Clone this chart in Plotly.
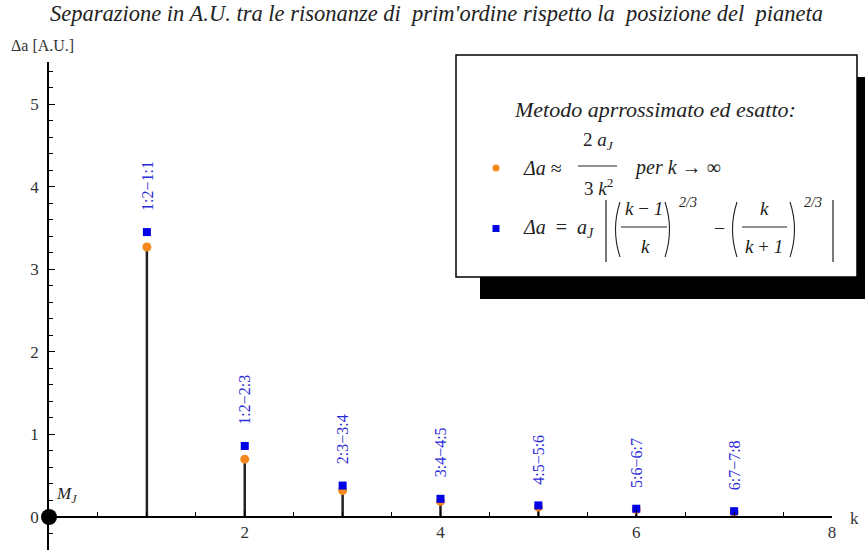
import plotly.graph_objects as go

# Order k of the first-order resonance pair
k_values = [1, 2, 3, 4, 5, 6, 7]
# Separation in A.U. (orange dots, blue squares)
approx_da = [3.27, 0.70, 0.32, 0.19, 0.12, 0.09, 0.06]
exact_da = [3.45, 0.86, 0.38, 0.22, 0.14, 0.10, 0.07]
# Resonance pair labels
pair_labels = ["1:2\u22121:1", "1:2\u22122:3", "2:3\u22123:4", "3:4\u22124:5",
               "4:5\u22125:6", "5:6\u22126:7", "6:7\u22127:8"]
x_tick_vals = [2, 4, 6, 8]
y_tick_vals = [0, 1, 2, 3, 4, 5]

W, H = 865, 554
ML, MR, MT, MB = 49, 33, 62, 4
PW, PH = W - ML - MR, H - MT - MB
Y_RANGE = [-0.4, 5.51]
SERIF = "Liberation Serif, Times New Roman, serif"
INK = "#222222"
ORANGE = "#f5891f"
BLUE = "#0000e6"
NB = "\u00a0"


def px(x):
    return (x - ML) / PW


def py(y):
    return 1 - (y - MT) / PH


fig = go.Figure()

# stems from the axis up to the orange dots
stem_x, stem_y = [], []
for k, v in zip(k_values, approx_da):
    stem_x += [k, k, None]
    stem_y += [0, v, None]
fig.add_trace(go.Scatter(x=stem_x, y=stem_y, mode="lines",
                         line=dict(color=INK, width=2.5), hoverinfo="skip"))

fig.add_trace(go.Scatter(x=k_values, y=approx_da, mode="markers",
                         marker=dict(symbol="circle", size=9, color=ORANGE)))
fig.add_trace(go.Scatter(x=k_values, y=exact_da, mode="markers",
                         marker=dict(symbol="square", size=8, color=BLUE)))

# the planet at the origin
fig.add_trace(go.Scatter(x=[0], y=[0], mode="markers", cliponaxis=False,
                         marker=dict(size=16, color="black")))

annotations = []
for k, v, lab in zip(k_values, exact_da, pair_labels):
    annotations.append(dict(x=k, y=v, xref="x", yref="y", text=lab,
                            textangle=-90, showarrow=False, xanchor="center",
                            yanchor="bottom", yshift=19,
                            font=dict(family=SERIF, size=16, color="#2b2bd6")))

annotations.append(dict(x=0, y=0, xref="x", yref="y", text="<i>M<sub>J</sub></i>",
                        showarrow=False, xanchor="left", yanchor="bottom",
                        xshift=5, yshift=9,
                        font=dict(family=SERIF, size=17, color=INK)))


def txt(x, y, s, size=17, anchor="center", color=INK):
    annotations.append(dict(x=px(x), y=py(y), xref="paper", yref="paper",
                            text=s, showarrow=False, xanchor=anchor,
                            yanchor="middle",
                            font=dict(family=SERIF, size=size, color=color)))


# title and axis names
txt(436, 14, "<i>Separazione in A.U. tra le risonanze di" + NB + " prim'ordine rispetto la"
    + NB + " posizione del" + NB + " pianeta</i>", 22.5)
txt(9, 46, "\u0394a [A.U.]", 16, anchor="left", color="#333333")
txt(848, 518, "k", 17, anchor="left", color="#333333")

shapes = []
# legend box with drop shadow
shapes.append(dict(type="rect", xref="paper", yref="paper", layer="above",
                   x0=px(480), x1=px(868), y0=py(77), y1=py(299),
                   fillcolor="black", line=dict(width=0)))
shapes.append(dict(type="rect", xref="paper", yref="paper", layer="above",
                   x0=px(456), x1=px(857), y0=py(55), y1=py(277),
                   fillcolor="white", line=dict(color="black", width=1.5)))
shapes.append(dict(type="circle", xref="paper", yref="paper", layer="above",
                   x0=px(492.5), x1=px(499.5), y0=py(164.5), y1=py(171.5),
                   fillcolor=ORANGE, line=dict(width=0)))
shapes.append(dict(type="rect", xref="paper", yref="paper", layer="above",
                   x0=px(492.5), x1=px(499.5), y0=py(225), y1=py(232),
                   fillcolor=BLUE, line=dict(width=0)))


def hline(x0, x1, y):
    shapes.append(dict(type="line", xref="paper", yref="paper", layer="above",
                       x0=px(x0), x1=px(x1), y0=py(y), y1=py(y),
                       line=dict(color=INK, width=1)))


def vline(x, y0, y1):
    shapes.append(dict(type="line", xref="paper", yref="paper", layer="above",
                       x0=px(x), x1=px(x), y0=py(y0), y1=py(y1),
                       line=dict(color=INK, width=1.2)))


def paren(x, y0, y1, opening=True, bulge=6):
    # thin tall bracket drawn as a quadratic curve
    ym = (y0 + y1) / 2
    tip = x + bulge / 2 if opening else x - bulge / 2
    ctrl = x - bulge if opening else x + bulge
    path = "M {:.5f},{:.5f} Q {:.5f},{:.5f} {:.5f},{:.5f}".format(
        px(tip), py(y0), px(ctrl), py(ym), px(tip), py(y1))
    shapes.append(dict(type="path", xref="paper", yref="paper", layer="above",
                       path=path, line=dict(color=INK, width=1.1)))


txt(655, 109, "<i>Metodo aprrossimato ed esatto:</i>", 22)

# approximate formula
txt(521, 168, "<i>\u0394a</i>" + NB + "\u2248", 20, anchor="left")
txt(598, 141, "2" + NB + "<i>a</i><sub><i>J</i></sub>", 19)
hline(578, 617, 166)
txt(598, 187, "3" + NB + "<i>k</i><sup>2</sup>", 19)
txt(632, 167, "<i>per" + NB + "k</i>" + NB + "\u2192" + NB + "\u221e", 20, anchor="left")

# exact formula
txt(521, 229, "<i>\u0394a</i>" + NB * 2 + "=" + NB * 2 + "<i>a</i><sub><i>J</i></sub>", 20,
    anchor="left")
vline(606, 200, 262)
vline(833, 200, 262)
paren(617, 202, 257, True)
paren(668, 202, 257, False)
txt(644, 208, "<i>k</i>" + NB + "\u2212" + NB + "<i>1</i>", 19)
hline(621, 667, 227)
txt(645, 246, "<i>k</i>", 19)
txt(688, 202, "<i>2/3</i>", 14)
txt(719, 228, "\u2212", 20)
paren(734, 202, 257, True)
paren(793, 202, 257, False)
txt(764, 208, "<i>k</i>", 19)
hline(742, 787, 227)
txt(764, 246, "<i>k</i>" + NB + "+" + NB + "<i>1</i>", 19)
txt(813, 202, "<i>2/3</i>", 14)

fig.update_layout(
    width=W, height=H,
    margin=dict(l=ML, r=MR, t=MT, b=MB),
    paper_bgcolor="white", plot_bgcolor="white",
    showlegend=False,
    annotations=annotations,
    shapes=shapes,
    xaxis=dict(range=[0, 8], anchor="free",
               position=-Y_RANGE[0] / (Y_RANGE[1] - Y_RANGE[0]),
               showgrid=False, zeroline=False, showline=True,
               linecolor="black", linewidth=1.5,
               tickmode="array", tickvals=x_tick_vals,
               ticks="inside", ticklen=6, tickwidth=1.2, tickcolor="black",
               minor=dict(tickmode="array",
                          tickvals=[0.5, 1, 1.5, 2.5, 3, 3.5, 4.5, 5, 5.5, 6.5, 7, 7.5],
                          ticks="inside", ticklen=4, tickwidth=1.2,
                          tickcolor="black"),
               tickfont=dict(family=SERIF, size=17, color="#333333")),
    yaxis=dict(range=Y_RANGE, showgrid=False, zeroline=False, showline=True,
               linecolor="black", linewidth=1.5,
               tickmode="array", tickvals=y_tick_vals,
               ticks="inside", ticklen=6, tickwidth=1.2, tickcolor="black",
               ticklabelstandoff=5,
               minor=dict(tickmode="linear", tick0=0, dtick=0.2,
                          ticks="inside", ticklen=4, tickwidth=1.2,
                          tickcolor="black"),
               tickfont=dict(family=SERIF, size=17, color="#333333")),
)

fig.write_html("out.html")
